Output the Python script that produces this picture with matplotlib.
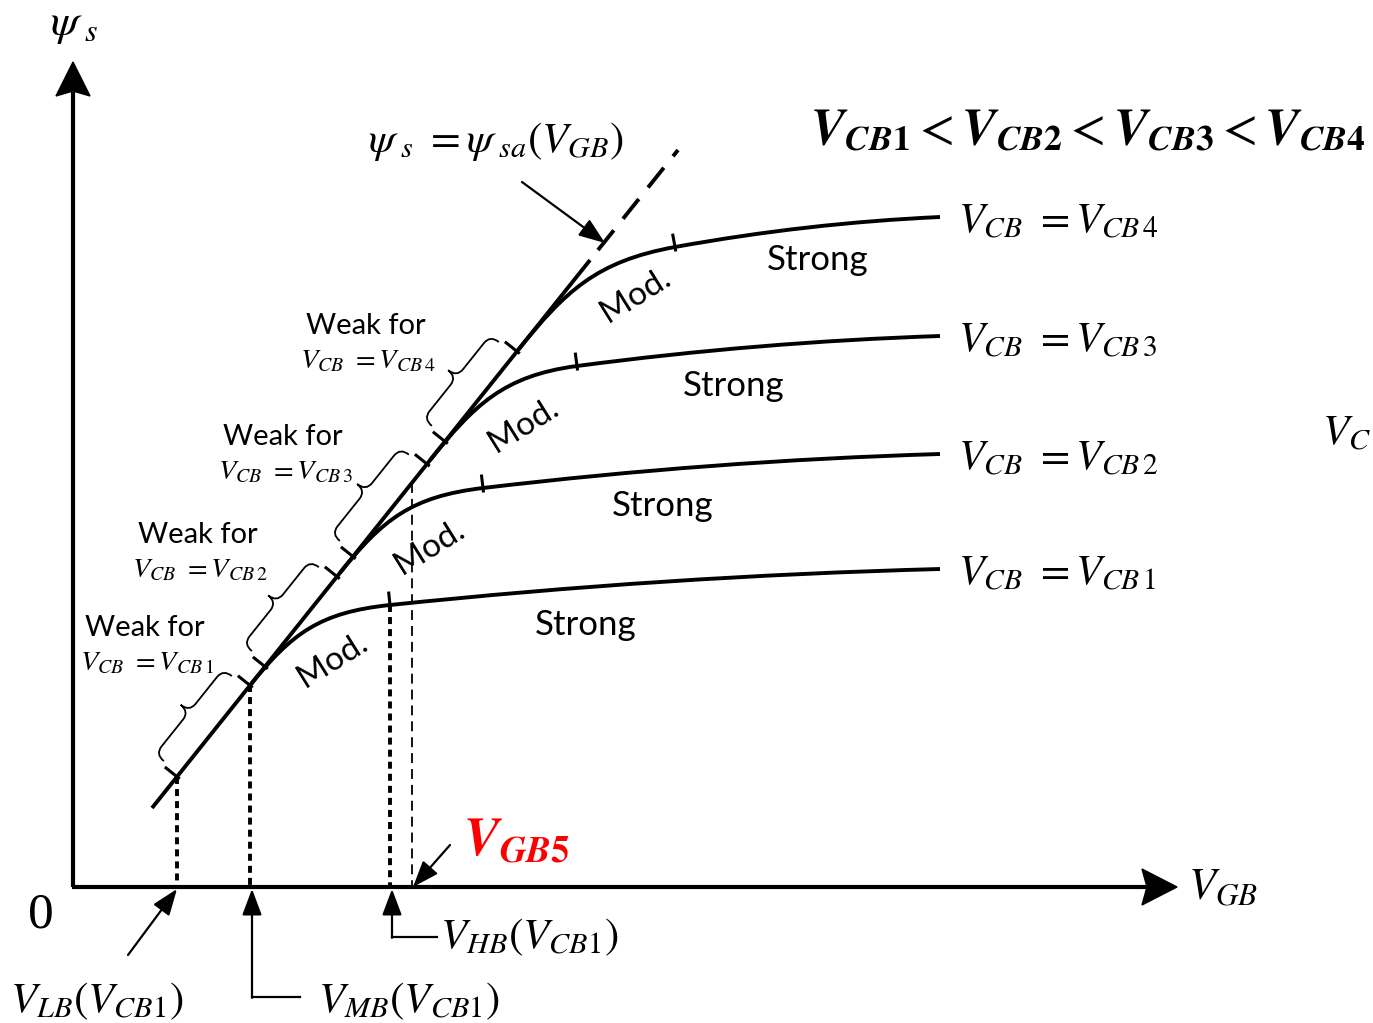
import matplotlib.pyplot as plt
import numpy as np
from matplotlib.path import Path
from matplotlib.patches import PathPatch, Polygon

plt.rcParams['mathtext.fontset'] = 'stix'
plt.rcParams['font.family'] = ['Liberation Serif', 'DejaVu Serif']

# sketch coordinates: x to the right, y downward (canvas units)
origin = (73, 887)
y_tip, x_tip = 62, 1177

# psi_s = psi_sa(V_GB) line
sa_start = (152, 808)
sa_end = (678, 150)
sa_solid_x = 590

# one curve per V_CB level
levels = ['1', '2', '3', '4']
depart_x = [250, 340, 430, 518]
knee_pts = [(390, 605), (483, 488), (577, 366), (675, 247)]
end_pts = [(940, 569), (940, 454), (940, 336), (940, 217)]
weak_ticks = [(177, 250), (265, 337), (353, 427), (445, 517)]

strong_pos = [(586, 625), (663, 506), (734, 386), (818, 260)]
mod_pos = [(333, 660), (430, 547), (524, 425), (636, 295)]
weak_pos = [(145, 628), (198, 535), (283, 437), (366, 326)]
vcb_label_y = [585, 470, 352, 233]

lb_x, mb_x, hb_x = 177, 250, 390
vgb5_x = 412

m = (sa_end[1] - sa_start[1]) / (sa_end[0] - sa_start[0])


def on_sa(x):
    return sa_start[1] + m * (x - sa_start[0])


t_hat = np.array([1.0, m]) / np.hypot(1, m)
n_hat = np.array([m, -1.0]) / np.hypot(1, m)


def brace(ax, p0, p1, n, h, lw=1.3):
    p0, p1 = np.asarray(p0, float), np.asarray(p1, float)
    L = np.linalg.norm(p1 - p0)
    t = (p1 - p0) / L
    w = min(10, L / 6)
    loc = [(0, 0), (0, h / 2), (w, h / 2), (L / 2 - w, h / 2), (L / 2, h / 2), (L / 2, h),
           (L / 2, h / 2), (L / 2 + w, h / 2), (L - w, h / 2), (L, h / 2), (L, 0)]
    codes = [Path.MOVETO, Path.CURVE3, Path.CURVE3, Path.LINETO, Path.CURVE3, Path.CURVE3,
             Path.CURVE3, Path.CURVE3, Path.LINETO, Path.CURVE3, Path.CURVE3]
    verts = [p0 + s * t + k * n for s, k in loc]
    ax.add_patch(PathPatch(Path(verts, codes), fill=False, lw=lw, color='k'))


fig = plt.figure(figsize=(13.73, 10.23), dpi=100)
ax = fig.add_axes([0, 0, 1, 1])
ax.set_xlim(0, 1373)
ax.set_ylim(1023, 0)
ax.axis('off')

# axes with arrowheads
ax.plot([origin[0], origin[0]], [origin[1], y_tip + 30], color='k', lw=3, solid_capstyle='butt')
ax.plot([origin[0] - 1, x_tip - 30], [origin[1], origin[1]], color='k', lw=3, solid_capstyle='butt')
ax.add_patch(Polygon([(73, y_tip), (56, 96), (73, 91), (90, 96)], closed=True, color='k'))
ax.add_patch(Polygon([(x_tip, 887), (1142, 869), (1147, 887), (1142, 905)], closed=True, color='k'))

# saturation line: solid then dashed
xs = np.array([sa_start[0], sa_solid_x])
ax.plot(xs, on_sa(xs), color='k', lw=2.8, solid_capstyle='butt')
xs = np.array([sa_solid_x + 8, sa_end[0]])
ax.plot(xs, on_sa(xs), color='k', lw=2.8, ls=(0, (6.5, 3.8)), dash_capstyle='butt')

for i in range(4):
    D = np.array([depart_x[i], on_sa(depart_x[i])])
    K = np.array(knee_pts[i], float)
    E = np.array(end_pts[i], float)
    dx = K[0] - D[0]
    sk = 1.6 * (E[1] - K[1]) / (E[0] - K[0])
    P1 = D + 0.30 * dx * np.array([1, m])
    P2 = K - 0.50 * dx * np.array([1, sk])
    Q = np.array([K[0] + 0.5 * (E[0] - K[0]), K[1] + sk * 0.5 * (E[0] - K[0])])
    path = Path([D, P1, P2, K, Q, E],
                [Path.MOVETO, Path.CURVE4, Path.CURVE4, Path.CURVE4, Path.CURVE3, Path.CURVE3])
    ax.add_patch(PathPatch(path, fill=False, lw=2.8, color='k'))

    # strong-inversion boundary tick
    nk = np.array([sk, -1.0]) / np.hypot(sk, 1)
    a, b = K - 3 * nk, K + 12 * nk
    ax.plot([a[0], b[0]], [a[1], b[1]], color='k', lw=2.2)

    # weak-inversion ticks and brace
    for tx in weak_ticks[i]:
        p = np.array([tx, on_sa(tx)])
        a, b = p - 2 * n_hat, p + 14 * n_hat
        ax.plot([a[0], b[0]], [a[1], b[1]], color='k', lw=2.2)
    s0, s1 = weak_ticks[i]
    p0 = np.array([s0, on_sa(s0)]) + 4 * t_hat + 20 * n_hat
    p1 = np.array([s1, on_sa(s1)]) - 4 * t_hat + 20 * n_hat
    brace(ax, p0, p1, n_hat, 22)

    ax.text(*strong_pos[i], 'Strong', family='Lato', fontsize=25, ha='center', va='center')
    ax.text(*mod_pos[i], 'Mod.', family='Lato', fontsize=24, ha='center', va='center',
            rotation=32, rotation_mode='anchor')
    wx, wy = weak_pos[i]
    ax.text(wx, wy, 'Weak for', family='Lato', fontsize=21, ha='center', va='center')
    ax.text(wx + 2, wy + 42, r'$V_{CB}\ =V_{CB\,%s}$' % levels[i], fontsize=20.5,
            ha='center', va='baseline')
    ax.text(958, vcb_label_y[i], r'$V_{CB}\ =V_{CB\,%s}$' % levels[i], fontsize=30.5,
            ha='left', va='baseline')

# boundary markers down to the V_GB axis
for x in [lb_x, mb_x, hb_x]:
    ax.plot([x, x], [on_sa(x) if x != hb_x else knee_pts[0][1], origin[1]], color='k',
            lw=2.8, ls=(0, (1.8, 1.3)), dash_capstyle='butt')
ax.plot([vgb5_x, vgb5_x], [on_sa(vgb5_x), origin[1]], color='k', lw=1.3,
        ls=(0, (5.5, 3.3)), dash_capstyle='butt')

arrow = dict(arrowstyle='-|>,head_length=0.8,head_width=0.3', lw=1.6, color='k',
             shrinkA=0, shrinkB=0, mutation_scale=20)
ax.annotate('', xy=(605, 243), xytext=(522, 182), arrowprops=arrow)
ax.annotate('', xy=(lb_x, 889), xytext=(128, 955), arrowprops=arrow)
ax.plot([300, mb_x + 2], [997, 997], color='k', lw=1.6)
ax.annotate('', xy=(mb_x + 2, 889), xytext=(mb_x + 2, 997.8), arrowprops=arrow)
ax.plot([437, hb_x + 2], [937, 937], color='k', lw=1.6)
ax.annotate('', xy=(hb_x + 2, 889), xytext=(hb_x + 2, 937.8), arrowprops=arrow)
ax.annotate('', xy=(vgb5_x + 1, 887), xytext=(450, 845), arrowprops=arrow)

# labels
ax.text(50, 35, r'$\psi_{\ s}$', fontsize=33, ha='left', va='baseline')
ax.text(1188, 900, r'$V_{GB}$', fontsize=32, ha='left', va='baseline')
ax.text(28, 927, '0', fontsize=37, ha='left', va='baseline')
ax.text(368, 152, r'$\psi_{\ s}\ =\psi_{\ sa}(V_{GB})$', fontsize=31, ha='left', va='baseline')
ax.text(10, 1012, r'$V_{LB}(V_{CB1})$', fontsize=31, ha='left', va='baseline')
ax.text(318, 1012, r'$V_{MB}(V_{CB1})$', fontsize=31, ha='left', va='baseline')
ax.text(440, 948, r'$V_{HB}(V_{CB1})$', fontsize=31, ha='left', va='baseline')
ax.text(463, 855, r'$\mathbfit{V}_{\mathbfit{GB}\mathbf{5}}$', fontsize=38, color='red',
        ha='left', va='baseline')
ax.text(810, 145, r'$\mathbfit{V}_{\mathbfit{CB}\mathbf{1}}<\mathbfit{V}_{\mathbfit{CB}\mathbf{2}}'
        r'<\mathbfit{V}_{\mathbfit{CB}\mathbf{3}}<\mathbfit{V}_{\mathbfit{CB}\mathbf{4}}$',
        fontsize=36.5, ha='left', va='baseline')
ax.text(1371, 445, r'$V_{C}$', fontsize=31, ha='right', va='baseline')

fig.savefig('out.png', dpi=100)
